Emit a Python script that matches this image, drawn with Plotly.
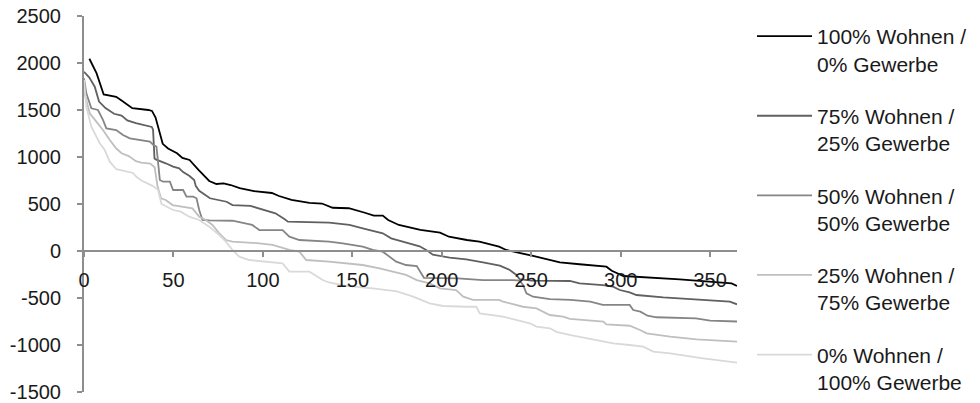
import plotly.graph_objects as go

# Series names (legend)
names = ["100% Wohnen /<br>0% Gewerbe", "75% Wohnen /<br>25% Gewerbe",
         "50% Wohnen /<br>50% Gewerbe", "25% Wohnen /<br>75% Gewerbe",
         "0% Wohnen /<br>100% Gewerbe"]
colors = ["#000000", "#606060", "#858585", "#bfbfbf", "#d9d9d9"]

# Axis ticks
x_ticks = [0, 50, 100, 150, 200, 250, 300, 350]
y_ticks = [-1500, -1000, -500, 0, 500, 1000, 1500, 2000, 2500]
y_tick_text = ["-1500", "-1000", "-500", "0", "500", "1000", "1500", "2000", "2500"]

# 100% Wohnen / 0% Gewerbe
x1 = [3, 7, 11, 18, 21, 24, 27, 36, 38, 40, 44, 47, 52, 55, 59, 64, 70, 74, 78, 82, 87, 95, 105, 109, 116, 126, 133, 139, 148, 157, 162, 167, 170, 176, 188, 199, 204, 214, 221, 232, 236, 251, 266, 277, 292, 295, 301.5, 333, 355, 362, 365]
y1 = [2045, 1892, 1665, 1640, 1600, 1564, 1520, 1500, 1490, 1420, 1140, 1090, 1040, 990, 968, 862, 745, 713, 720, 702, 670, 638, 617, 585, 543, 511, 505, 460, 455, 407, 376, 376, 330, 277, 225, 195, 152, 117, 99, 46, 11, -53, -120, -141, -167, -210, -266, -301, -333, -345, -372]

# 75% Wohnen / 25% Gewerbe
x2 = [0, 3, 6, 8.4, 12, 16.8, 21, 24.2, 29, 34.5, 37.9, 38.6, 39.4, 40.1, 44.2, 45.7, 49.8, 53.2, 55.4, 58.8, 61.6, 62.5, 64.4, 70.4, 79.7, 83, 93, 107, 112, 114, 137, 148.4, 155.8, 167, 171.7, 187.6, 192.2, 195, 204.4, 213.7, 223, 232.4, 238, 241.7, 243.5, 250, 262, 271.6, 277, 290, 295.7, 299.5, 305, 308.8, 323.8, 361, 365]
y2 = [1907, 1845, 1748, 1590, 1520, 1460, 1440, 1390, 1360, 1340, 1320, 1290, 985, 975, 950, 933, 897, 880, 840, 800, 755, 690, 640, 561, 524, 489, 480, 401, 340, 312, 301, 277, 241, 188, 135, 50, 0, -40, -71, -88, -120, -156, -202, -255, -300, -315, -318, -319, -344, -362, -380, -415, -440, -468, -493, -539, -567]

# 50% Wohnen / 50% Gewerbe
x3 = [0, 1.3, 4.1, 7.8, 10.6, 12.5, 18, 21.8, 25.6, 32, 36.8, 38.8, 40.5, 42.4, 44.2, 48, 49.8, 55.4, 57.3, 61, 62.9, 64.4, 66.2, 70, 83, 94, 98, 111, 114.8, 120.4, 137, 144.6, 155.8, 161.4, 167, 174.5, 180, 186, 190, 209, 223, 240, 243.5, 245.4, 247.3, 251, 260.4, 272, 283, 290, 305, 307, 311, 315, 320, 342, 350, 365]
y3 = [1837, 1678, 1518, 1500, 1394, 1305, 1287, 1234, 1199, 1181, 1163, 1128, 1110, 755, 737, 737, 649, 649, 578, 578, 561, 436, 330, 325, 322, 277, 223, 223, 152, 117, 99, 82, 46, 11, -7, -114, -149, -160, -285, -291, -309, -310, -315, -362, -450, -486, -511, -521, -539, -574, -574, -628, -646, -688, -705, -716, -741, -750]

# 25% Wohnen / 75% Gewerbe
x4 = [0, 1.3, 3.2, 6.9, 10.6, 14.4, 18.1, 21, 25, 29, 32, 37, 39.5, 41, 43, 45.7, 49.5, 60.6, 64.4, 68.1, 71.8, 75.6, 79.3, 83, 94.2, 98, 105.4, 114.8, 120.4, 124.2, 137, 148.4, 155.8, 165.2, 172.6, 176.4, 180, 186, 193.2, 199, 208, 212, 217.4, 232, 234.2, 245.4, 252.9, 260.4, 267.8, 271.6, 290.3, 292, 305, 310.8, 314.5, 327.6, 342.4, 365]
y4 = [1700, 1606, 1465, 1376, 1287, 1181, 1090, 1040, 1010, 955, 940, 930, 890, 700, 560, 543, 489, 454, 365, 330, 277, 188, 117, 99, 88, 82, 64, 11, -7, -96, -114, -131, -149, -184, -220, -237, -255, -309, -344, -397, -415, -486, -521, -521, -539, -593, -610, -681, -699, -723, -752, -780, -795, -840, -876, -912, -940, -965]

# 0% Wohnen / 100% Gewerbe
x5 = [0, 1, 1.3, 4.1, 8.8, 11.6, 12.5, 14.4, 18.1, 27.4, 29.3, 32.1, 38.6, 41.4, 43.3, 46, 49.8, 54.1, 58.8, 64.4, 70, 75.6, 79.3, 83, 86.8, 92.4, 101.7, 111, 114.8, 126, 133.4, 137, 146.5, 161.4, 175, 184, 193.2, 200.7, 213.7, 219.3, 221.2, 234.2, 249.2, 252.9, 260.4, 264.1, 272, 292.1, 295.8, 305, 312.6, 318.2, 327.6, 345, 365]
y5 = [1820, 1600, 1535, 1322, 1146, 1074, 1039, 950, 870, 830, 790, 750, 690, 650, 500, 471, 436, 418, 365, 330, 259, 170, 99, 11, -61, -96, -114, -131, -220, -220, -309, -335, -372, -397, -430, -486, -556, -585, -593, -593, -663, -699, -769, -805, -822, -860, -894, -965, -982, -1000, -1018, -1071, -1089, -1140, -1188]

xs = [x1, x2, x3, x4, x5]
ys = [y1, y2, y3, y4, y5]

fig = go.Figure()
for i in range(5):
    fig.add_trace(go.Scatter(x=xs[i], y=ys[i], mode="lines", name=names[i],
                             legendgroup=str(i),
                             line=dict(color=colors[i], width=1.8)))

fam = "Liberation Sans, Arial, Helvetica, sans-serif"
axis_font = dict(family=fam, size=20, color="#1a1a1a")
fig.update_layout(
    width=980, height=403,
    margin=dict(l=84, r=243, t=16, b=11, autoexpand=False),
    paper_bgcolor="white", plot_bgcolor="white",
    font=axis_font,
    showlegend=True,
    legend=dict(x=1.023, y=1.0, xanchor="left", yanchor="top", valign="top",
                font=dict(family=fam, size=21, color="#1a1a1a"),
                tracegroupgap=22, itemwidth=55, bgcolor="rgba(0,0,0,0)",
                maxheight=600),
    xaxis=dict(range=[0, 365], tickvals=x_ticks,
               showgrid=False, zeroline=False, showline=True, linecolor="#8e8e8e", linewidth=2,
               ticks="outside", ticklen=5, tickcolor="#8e8e8e", tickwidth=2,
               anchor="free", position=0.375, ticklabelstandoff=6, tickfont=axis_font,
               ticklabeloverflow="allow"),
    yaxis=dict(range=[-1500, 2500], tickvals=y_ticks, ticktext=y_tick_text,
               showgrid=False, zeroline=False, showline=True, linecolor="#8e8e8e", linewidth=2,
               ticks="outside", ticklen=5, tickcolor="#8e8e8e", tickwidth=2,
               ticklabelstandoff=12, tickfont=axis_font, ticklabeloverflow="allow"),
)

# remove the default 8px page margin so the 980x403 figure fills the window exactly
fig.write_html("out.html", config={"displayModeBar": False},
               post_script="document.body.style.margin='0px';")
